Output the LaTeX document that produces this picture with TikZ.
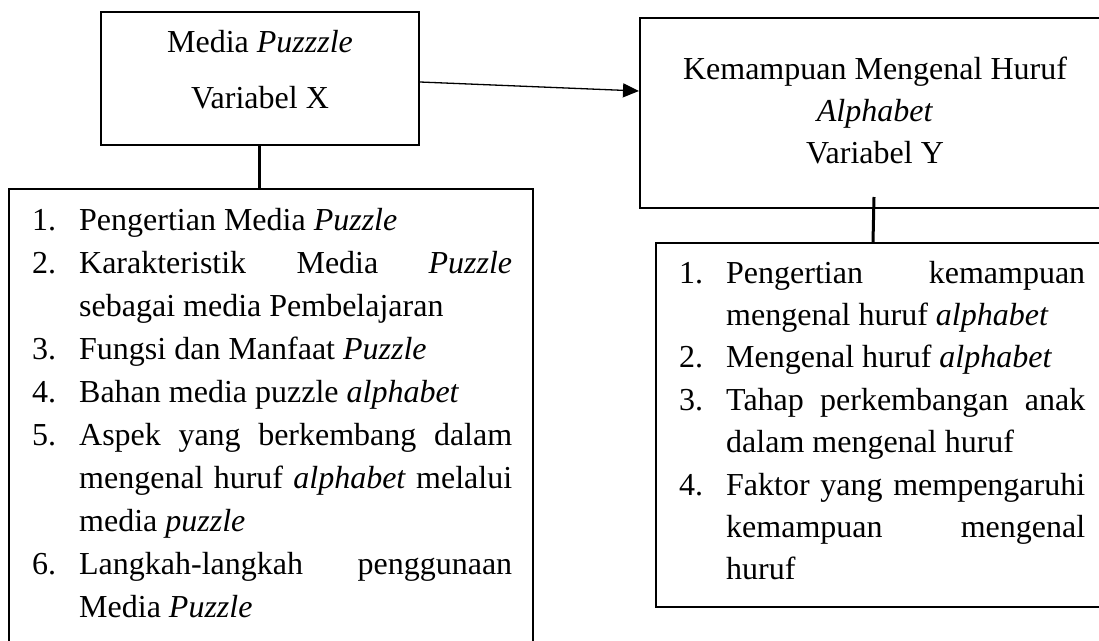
\documentclass[tikz,border=0pt]{standalone}
\usepackage{fontspec}
\setmainfont{Liberation Serif}
\usetikzlibrary{arrows.meta}
\newcommand{\myitem}[2]{\par\hangindent=47pt\hangafter=1\noindent\makebox[47pt][l]{#1}#2}
\tikzset{
  box/.style={draw, line width=2pt, inner sep=0pt},
  txt/.style={inner sep=0pt, anchor=base},
  lst/.style={inner sep=0pt, anchor=base west},
  conn/.style={line width=3pt},
  arr/.style={line width=1.3pt, -{Triangle[length=16pt,width=14pt]}}
}
\begin{document}
\begin{tikzpicture}[x=1pt,y=-1pt]
\clip (0,0) rectangle (1099,640);
\fill[white] (0,0) rectangle (1099,640);
% boxes
\node[box, minimum width=318.3pt, minimum height=132.7pt] (A) at (259.85,78.65) {};
\node[box, minimum width=465pt, minimum height=190pt] (C) at (872.5,113) {};
\node[box, minimum width=524pt, minimum height=461pt] (B) at (271,419.5) {};
\node[box, minimum width=449pt, minimum height=364pt] (D) at (880.5,425) {};
% texts
\node[txt] (At) at (260,52.7) {\parbox[t]{300pt}{\centering\fontsize{32pt}{55.5pt}\selectfont Media \textit{Puzzzle}\\Variabel X}};
\node[txt] (Ct) at (875,79) {\parbox[t]{450pt}{\centering\fontsize{32pt}{42pt}\selectfont Kemampuan Mengenal Huruf\\\textit{Alphabet}\\Variabel Y}};
\node[lst] (Bt) at (32,230) {\parbox[t]{480pt}{\fontsize{32pt}{43.1pt}\selectfont\hyphenpenalty=10000 \exhyphenpenalty=10000 \parindent=0pt
\myitem{1.}{Pengertian Media \textit{Puzzle}}
\myitem{2.}{Karakteristik Media \textit{Puzzle}\linebreak sebagai media Pembelajaran}
\myitem{3.}{Fungsi dan Manfaat \textit{Puzzle}}
\myitem{4.}{Bahan media puzzle \textit{alphabet}}
\myitem{5.}{Aspek yang berkembang dalam\linebreak mengenal huruf \textit{alphabet} melalui\linebreak media \textit{puzzle}}
\myitem{6.}{Langkah-langkah penggunaan\linebreak Media \textit{Puzzle}}\par}};
\node[lst] (Dt) at (679,283) {\parbox[t]{406pt}{\fontsize{32pt}{42.4pt}\selectfont\hyphenpenalty=10000 \exhyphenpenalty=10000 \parindent=0pt
\myitem{1.}{Pengertian kemampuan\linebreak mengenal huruf \textit{alphabet}}
\myitem{2.}{Mengenal huruf \textit{alphabet}}
\myitem{3.}{Tahap perkembangan anak\linebreak dalam mengenal huruf}
\myitem{4.}{Faktor yang mempengaruhi\linebreak kemampuan mengenal\linebreak huruf}\par}};
% connectors
\draw[arr] ([yshift=-3.35pt]A.east) -- ([yshift=22pt]C.west);
\draw[conn] (A.south) -- (A.south |- B.north);
\draw[conn] ([xshift=1.5pt,yshift=12pt]C.south) -- ([xshift=0.5pt]C.south |- D.north);
\end{tikzpicture}
\end{document}
